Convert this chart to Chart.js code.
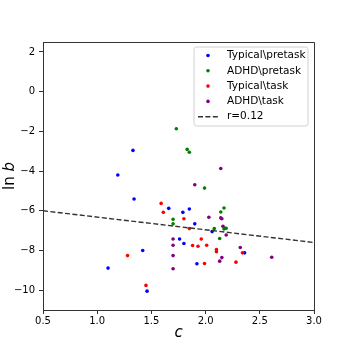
<!DOCTYPE html>
<html><head><meta charset="utf-8">
<script src="https://cdn.jsdelivr.net/npm/chart.js@4/dist/chart.umd.min.js"></script>
<style>html,body{margin:0;padding:0;background:#fff;}#wrap{width:349px;height:349px;}</style>
</head><body><div id="wrap"><canvas id="c" width="349" height="349"></canvas></div>
<script>
// ---- data ----
const seriesLabels = ['Typical\\pretask', 'ADHD\\pretask', 'Typical\\task', 'ADHD\\task'];
const seriesColors = ['#0000ff', '#008000', '#ff0000', '#800080'];

const typicalPreC   = [1.33, 1.19, 1.34, 1.42, 1.10, 1.46, 1.66, 1.79, 1.85, 1.90, 1.76, 1.80, 2.06, 1.92, 2.36];
const typicalPreLnB = [-2.96, -4.20, -5.41, -8.00, -8.89, -10.05, -5.88, -6.08, -5.91, -6.66, -7.42, -7.65, -7.05, -8.67, -8.12];

const adhdPreC   = [1.73, 1.83, 1.85, 1.99, 2.14, 2.17, 1.70, 1.70, 2.08, 2.17, 2.18, 2.19, 2.13];
const adhdPreLnB = [-1.87, -2.91, -3.05, -4.86, -6.06, -5.86, -6.43, -6.66, -6.90, -6.92, -6.88, -6.88, -7.40];

const typicalTaskC   = [1.59, 1.61, 1.28, 1.45, 1.80, 1.85, 1.96, 1.88, 1.93, 2.01, 2.10, 2.10, 2.34, 1.99, 2.28];
const typicalTaskLnB = [-5.63, -6.08, -8.26, -9.76, -6.40, -6.90, -7.42, -7.75, -7.79, -7.74, -7.95, -8.06, -8.12, -8.66, -8.59];

const adhdTaskC   = [2.14, 1.90, 2.03, 2.14, 2.15, 2.16, 2.19, 1.70, 1.70, 1.70, 1.70, 2.32, 2.15, 2.13, 2.61];
const adhdTaskLnB = [-3.87, -4.69, -6.33, -6.36, -6.40, -6.78, -7.22, -7.42, -7.74, -8.26, -8.92, -7.85, -8.36, -8.54, -8.34];

const fitLabel = 'r=0.12';
const fitC   = [0.5, 3.0];
const fitLnB = [-6.0, -7.6];

const xTicks = [0.5, 1.0, 1.5, 2.0, 2.5, 3.0];
const yTicks = [-10, -8, -6, -4, -2, 0, 2];

// ---- build ----
const toPts = (xs, ys) => xs.map((x, i) => ({x: x, y: ys[i]}));
const seriesData = [
  toPts(typicalPreC, typicalPreLnB),
  toPts(adhdPreC, adhdPreLnB),
  toPts(typicalTaskC, typicalTaskLnB),
  toPts(adhdTaskC, adhdTaskLnB)
];
const FONT = 'DejaVu Sans';
const AXIS = '#333';

const datasets = seriesData.map((d, i) => ({
  type: 'scatter', label: seriesLabels[i], data: d,
  backgroundColor: seriesColors[i], borderWidth: 0,
  pointRadius: 1.8, pointHoverRadius: 1.8, order: 4 - i
}));
datasets.push({
  type: 'line', label: fitLabel, data: toPts(fitC, fitLnB),
  borderColor: '#333', borderWidth: 1.4, borderDash: [5, 2.4],
  pointRadius: 0, fill: false, order: 0
});

const fmtMinus = v => v < 0 ? '\u2212' + Math.abs(v) : String(v);

const spines = {
  id: 'spines',
  afterDraw(chart) {
    const {ctx, chartArea: a} = chart;
    ctx.save();
    ctx.strokeStyle = AXIS; ctx.lineWidth = 1;
    ctx.beginPath();
    ctx.moveTo(Math.round(a.left) + 0.5, Math.round(a.top) + 0.5);
    ctx.lineTo(Math.round(a.right) + 0.5, Math.round(a.top) + 0.5);
    ctx.lineTo(Math.round(a.right) + 0.5, Math.round(a.bottom) + 0.5);
    ctx.stroke();
    // y-axis title: "ln b" with italic b
    const cy = (a.top + a.bottom) / 2;
    ctx.fillStyle = '#000';
    ctx.textBaseline = 'alphabetic';
    ctx.textAlign = 'left';
    const f1 = '15px "' + FONT + '"', f2 = 'italic 15px "' + FONT + '"';
    ctx.font = f1; const w1 = ctx.measureText('ln ').width;
    ctx.font = f2; const w2 = ctx.measureText('b').width;
    ctx.translate(13.5, cy);
    ctx.rotate(-Math.PI / 2);
    const x0 = -(w1 + w2) / 2;
    ctx.font = f1; ctx.fillText('ln ', x0, 0);
    ctx.font = f2; ctx.fillText('b', x0 + w1, 0);
    ctx.restore();
  }
};

const legendPlugin = {
  id: 'customLegend',
  afterDraw(chart) {
    const {ctx, chartArea: a} = chart;
    const ds = chart.data.datasets;
    const bx = a.right - 120, by = a.top + 5, bw = 114, bh = 79, r = 2.5;
    ctx.save();
    ctx.beginPath();
    ctx.moveTo(bx + r, by); ctx.lineTo(bx + bw - r, by); ctx.arcTo(bx + bw, by, bx + bw, by + r, r);
    ctx.lineTo(bx + bw, by + bh - r); ctx.arcTo(bx + bw, by + bh, bx + bw - r, by + bh, r);
    ctx.lineTo(bx + r, by + bh); ctx.arcTo(bx, by + bh, bx, by + bh - r, r);
    ctx.lineTo(bx, by + r); ctx.arcTo(bx, by, bx + r, by, r); ctx.closePath();
    ctx.fillStyle = 'rgba(255,255,255,0.85)'; ctx.fill();
    ctx.strokeStyle = '#d0d0d0'; ctx.lineWidth = 1; ctx.stroke();
    ctx.font = '10.5px "' + FONT + '"';
    ctx.textBaseline = 'middle'; ctx.textAlign = 'left';
    ds.forEach((d, i) => {
      const y = by + 8.5 + i * 15.3;
      if (d.type === 'line') {
        ctx.strokeStyle = d.borderColor; ctx.lineWidth = d.borderWidth;
        ctx.setLineDash(d.borderDash);
        ctx.beginPath(); ctx.moveTo(bx + 4, y); ctx.lineTo(bx + 24, y); ctx.stroke();
        ctx.setLineDash([]);
      } else {
        ctx.fillStyle = d.backgroundColor;
        ctx.beginPath(); ctx.arc(bx + 14, y, 1.8, 0, Math.PI * 2); ctx.fill();
      }
      ctx.fillStyle = '#000';
      ctx.fillText(d.label, bx + 33, y);
    });
    ctx.restore();
  }
};

new Chart(document.getElementById('c'), {
  data: {datasets},
  options: {
    responsive: false, animation: false, devicePixelRatio: 1,
    layout: {padding: {top: 42, right: 35, left: 0, bottom: 0}},
    plugins: {legend: {display: false}, tooltip: {enabled: false}},
    scales: {
      x: {
        type: 'linear', position: 'bottom', min: 0.5, max: 3.0,
        afterBuildTicks: s => { s.ticks = xTicks.map(v => ({value: v})); },
        afterFit: s => { s.height = 39; },
        grid: {display: true, drawOnChartArea: false, drawTicks: true, tickLength: 4, color: AXIS, lineWidth: 1},
        border: {display: true, color: AXIS, width: 1},
        ticks: {font: {family: FONT, size: 10}, color: '#000', padding: 1, maxRotation: 0, autoSkip: false,
                callback: v => Number(v).toFixed(1)},
        title: {display: true, text: 'c', color: '#000', font: {family: FONT, size: 15, style: 'italic'}, padding: {top: 0, bottom: 7}}
      },
      y: {
        type: 'linear', position: 'left', min: -11, max: 2.5,
        afterBuildTicks: s => { s.ticks = yTicks.map(v => ({value: v})); },
        afterFit: s => { s.width = 43; },
        grid: {display: true, drawOnChartArea: false, drawTicks: true, tickLength: 4, color: AXIS, lineWidth: 1},
        border: {display: true, color: AXIS, width: 1},
        ticks: {font: {family: FONT, size: 10}, color: '#000', padding: 4, autoSkip: false,
                callback: v => fmtMinus(v)}
      }
    }
  },
  plugins: [spines, legendPlugin]
});
</script>
</body></html>
